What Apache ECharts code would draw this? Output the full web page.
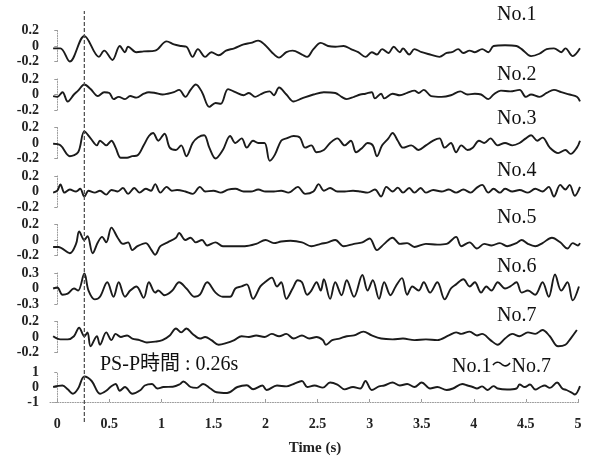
<!DOCTYPE html>
<html>
<head>
<meta charset="utf-8">
<script src="https://cdn.jsdelivr.net/npm/echarts@6/dist/echarts.min.js"></script>
<style>
  html, body { margin: 0; padding: 0; background: #ffffff; }
  #chart { width: 590px; height: 457px; }
</style>
</head>
<body>
<div id="chart"></div>
<script>
// Channel labels, amplitude limits and time ticks
const channelNames = ['No.1', 'No.2', 'No.3', 'No.4', 'No.5', 'No.6', 'No.7', 'No.1～No.7'];
const ampLimits = [0.2, 0.2, 0.2, 0.2, 0.2, 0.3, 0.2, 1];
const timeTicks = [0, 0.5, 1, 1.5, 2, 2.5, 3, 3.5, 4, 4.5, 5];
const PSP_TIME = 0.26;

// Waveforms: [time (s), amplitude]
const no1 = [[-0.04,-0.03],[0.03,-0.03],[0.12,-0.20],[0.26,0.13],[0.40,-0.14],[0.45,-0.06],[0.53,-0.18],[0.60,0.00],[0.65,-0.08],[0.68,-0.01],[0.76,-0.08],[0.83,-0.07],[0.94,-0.06],[1.05,0.06],[1.12,0.02],[1.19,0.00],[1.24,-0.01],[1.30,-0.14],[1.35,-0.04],[1.42,-0.14],[1.48,-0.08],[1.55,-0.12],[1.62,-0.06],[1.70,-0.03],[1.79,0.02],[1.86,0.04],[1.93,0.07],[1.99,0.02],[2.06,-0.08],[2.13,-0.15],[2.20,-0.08],[2.26,-0.06],[2.35,-0.11],[2.40,-0.14],[2.46,-0.04],[2.53,0.04],[2.60,0.00],[2.67,-0.01],[2.75,0.00],[2.82,-0.04],[2.89,-0.08],[2.96,-0.14],[3.02,-0.08],[3.07,-0.11],[3.12,-0.04],[3.18,-0.09],[3.23,-0.01],[3.29,-0.08],[3.32,-0.03],[3.38,-0.11],[3.43,-0.04],[3.50,-0.08],[3.58,-0.11],[3.67,-0.14],[3.74,-0.09],[3.79,-0.08],[3.85,-0.04],[3.90,-0.09],[3.96,-0.06],[4.01,-0.08],[4.08,-0.04],[4.14,-0.08],[4.19,0.00],[4.30,0.01],[4.41,0.00],[4.46,-0.04],[4.55,-0.13],[4.63,-0.10],[4.70,-0.04],[4.77,-0.03],[4.84,-0.08],[4.88,-0.03],[4.95,-0.13],[5.02,-0.03]];
const no2 = [[-0.04,-0.02],[0.00,-0.03],[0.05,0.03],[0.10,-0.09],[0.16,0.00],[0.20,0.05],[0.26,0.13],[0.32,0.07],[0.39,-0.02],[0.45,0.03],[0.50,0.02],[0.54,-0.06],[0.59,-0.03],[0.65,-0.06],[0.70,-0.02],[0.76,-0.04],[0.83,0.01],[0.88,0.03],[0.94,0.02],[1.01,0.00],[1.06,0.01],[1.12,0.03],[1.17,0.06],[1.23,-0.03],[1.28,0.06],[1.33,0.13],[1.39,0.03],[1.46,-0.16],[1.52,-0.11],[1.57,-0.12],[1.64,0.07],[1.71,0.03],[1.79,-0.01],[1.84,0.02],[1.90,-0.03],[1.95,0.00],[2.00,0.03],[2.04,0.04],[2.08,-0.01],[2.13,0.09],[2.20,0.00],[2.27,-0.09],[2.35,-0.05],[2.46,0.00],[2.56,0.03],[2.67,0.02],[2.73,-0.03],[2.78,-0.06],[2.85,-0.03],[2.91,0.00],[2.96,0.01],[3.02,0.03],[3.05,-0.05],[3.11,0.01],[3.14,-0.05],[3.22,0.01],[3.29,-0.01],[3.36,0.02],[3.43,0.05],[3.47,0.02],[3.52,0.06],[3.59,-0.02],[3.69,-0.03],[3.78,-0.01],[3.87,0.04],[3.94,0.00],[4.01,0.01],[4.07,0.00],[4.14,-0.06],[4.19,0.00],[4.26,0.05],[4.35,0.04],[4.44,0.06],[4.50,-0.03],[4.55,0.00],[4.63,-0.03],[4.70,0.02],[4.77,0.06],[4.84,0.03],[4.92,0.00],[4.99,-0.03],[5.02,-0.09]];
const no3 = [[-0.04,-0.01],[0.03,-0.03],[0.12,-0.17],[0.20,-0.12],[0.26,0.15],[0.32,0.06],[0.38,-0.03],[0.41,0.03],[0.47,-0.03],[0.52,0.03],[0.56,-0.06],[0.61,-0.19],[0.67,-0.19],[0.72,-0.17],[0.77,-0.16],[0.83,-0.03],[0.88,0.09],[0.92,0.13],[0.97,0.03],[1.03,0.12],[1.08,-0.06],[1.14,-0.09],[1.19,-0.03],[1.24,-0.17],[1.30,0.00],[1.35,0.07],[1.41,0.10],[1.46,-0.06],[1.52,-0.20],[1.59,-0.09],[1.66,0.09],[1.71,0.00],[1.77,0.06],[1.82,-0.06],[1.88,0.03],[1.93,0.00],[1.99,0.00],[2.04,-0.23],[2.09,-0.15],[2.15,0.03],[2.20,0.06],[2.27,0.09],[2.33,0.07],[2.38,-0.06],[2.44,-0.03],[2.49,-0.12],[2.56,-0.09],[2.62,0.00],[2.69,0.06],[2.76,-0.03],[2.82,0.03],[2.87,-0.12],[2.93,-0.06],[2.98,0.00],[3.03,-0.03],[3.07,-0.17],[3.12,-0.03],[3.18,0.06],[3.22,0.13],[3.27,0.03],[3.32,-0.06],[3.40,-0.03],[3.47,-0.09],[3.54,-0.03],[3.61,0.03],[3.67,0.06],[3.72,-0.06],[3.78,0.00],[3.83,-0.12],[3.88,-0.03],[3.94,-0.09],[3.99,-0.06],[4.05,0.03],[4.10,0.00],[4.16,0.06],[4.23,-0.03],[4.30,0.00],[4.37,-0.03],[4.44,0.00],[4.50,0.06],[4.55,0.10],[4.61,0.03],[4.66,0.07],[4.73,-0.06],[4.81,-0.13],[4.88,-0.09],[4.93,-0.14],[4.99,-0.06],[5.02,0.03]];
const no4 = [[-0.04,-0.015],[0.00,0.01],[0.03,0.09],[0.07,-0.015],[0.12,0.025],[0.18,0.00],[0.22,0.035],[0.26,-0.065],[0.30,0.01],[0.36,-0.015],[0.41,0.01],[0.47,-0.04],[0.52,0.02],[0.58,0.00],[0.63,0.045],[0.68,-0.03],[0.74,0.045],[0.79,-0.015],[0.85,0.035],[0.90,0.01],[0.94,0.095],[0.99,-0.015],[1.05,0.06],[1.10,0.01],[1.15,0.02],[1.23,0.00],[1.30,-0.03],[1.37,0.06],[1.42,0.00],[1.50,0.01],[1.57,-0.015],[1.64,0.025],[1.71,0.035],[1.79,0.00],[1.86,0.00],[1.93,0.025],[2.00,0.00],[2.08,0.00],[2.15,0.01],[2.22,-0.015],[2.31,0.06],[2.38,-0.03],[2.46,0.00],[2.51,0.095],[2.56,0.01],[2.62,0.045],[2.69,0.00],[2.76,0.00],[2.84,0.01],[2.91,0.00],[2.98,-0.015],[3.05,0.025],[3.11,-0.065],[3.16,0.06],[3.22,0.00],[3.27,0.05],[3.32,-0.015],[3.38,0.045],[3.43,-0.015],[3.49,0.045],[3.54,-0.015],[3.61,0.02],[3.69,0.00],[3.76,0.025],[3.83,-0.015],[3.90,0.025],[3.97,-0.015],[4.03,0.05],[4.08,0.085],[4.14,-0.015],[4.19,0.035],[4.25,-0.015],[4.30,0.035],[4.37,0.00],[4.44,0.02],[4.52,-0.015],[4.59,0.035],[4.66,0.00],[4.72,0.06],[4.77,-0.065],[4.83,0.085],[4.88,0.025],[4.92,0.085],[4.97,-0.055],[5.02,0.06]];
const no5 = [[-0.04,-0.09],[0.01,-0.09],[0.12,-0.17],[0.18,-0.05],[0.21,0.11],[0.26,0.00],[0.29,0.05],[0.34,-0.17],[0.39,-0.03],[0.43,0.04],[0.47,-0.03],[0.52,0.16],[0.58,0.03],[0.63,-0.05],[0.68,-0.03],[0.72,-0.13],[0.77,-0.08],[0.85,-0.04],[0.90,-0.12],[0.94,-0.19],[0.99,-0.08],[1.06,-0.03],[1.14,0.03],[1.17,0.09],[1.23,0.00],[1.28,0.03],[1.33,-0.03],[1.39,0.00],[1.44,-0.07],[1.52,-0.03],[1.59,-0.08],[1.70,-0.08],[1.80,-0.08],[1.91,-0.05],[2.00,0.00],[2.08,-0.04],[2.15,-0.02],[2.24,-0.01],[2.35,-0.03],[2.44,-0.08],[2.53,-0.05],[2.60,-0.03],[2.67,0.00],[2.75,-0.08],[2.85,-0.05],[2.93,-0.03],[3.00,0.02],[3.07,-0.13],[3.14,-0.05],[3.22,0.03],[3.29,-0.05],[3.36,-0.04],[3.43,-0.09],[3.54,-0.05],[3.65,-0.06],[3.74,-0.05],[3.83,0.04],[3.88,-0.08],[3.96,-0.03],[4.03,-0.11],[4.10,-0.05],[4.17,-0.07],[4.25,-0.04],[4.32,-0.08],[4.41,-0.04],[4.46,0.00],[4.52,-0.05],[4.59,-0.08],[4.66,-0.04],[4.75,0.03],[4.83,-0.03],[4.90,-0.11],[4.95,-0.04],[5.00,-0.07],[5.02,-0.04]];
const no6 = [[-0.04,0.00],[0.00,0.02],[0.05,-0.12],[0.10,-0.10],[0.16,0.00],[0.20,-0.04],[0.26,0.29],[0.30,-0.04],[0.36,-0.21],[0.41,-0.16],[0.48,0.12],[0.54,-0.16],[0.59,0.12],[0.65,-0.16],[0.70,-0.04],[0.76,0.04],[0.83,-0.18],[0.88,0.12],[0.94,-0.08],[0.97,-0.04],[1.03,-0.13],[1.10,-0.05],[1.17,0.12],[1.24,0.00],[1.32,-0.16],[1.37,-0.12],[1.44,0.12],[1.52,-0.08],[1.59,-0.16],[1.66,-0.16],[1.71,0.00],[1.77,0.04],[1.82,0.08],[1.88,-0.20],[1.95,0.04],[2.00,0.13],[2.06,0.21],[2.11,0.04],[2.15,0.12],[2.20,-0.20],[2.26,0.00],[2.31,0.16],[2.35,0.12],[2.40,-0.12],[2.44,-0.04],[2.49,0.12],[2.53,-0.04],[2.56,0.18],[2.62,-0.20],[2.67,0.12],[2.73,-0.13],[2.78,0.16],[2.85,-0.16],[2.93,0.26],[2.98,-0.04],[3.03,0.16],[3.09,-0.20],[3.14,0.12],[3.20,-0.13],[3.25,0.04],[3.31,0.20],[3.36,-0.12],[3.41,0.04],[3.47,-0.04],[3.52,0.12],[3.58,-0.08],[3.65,0.12],[3.72,-0.21],[3.78,0.00],[3.83,0.08],[3.90,0.18],[3.96,0.04],[4.01,0.12],[4.07,-0.08],[4.12,0.04],[4.17,-0.04],[4.23,0.12],[4.30,0.00],[4.35,0.04],[4.41,0.12],[4.46,-0.08],[4.52,-0.04],[4.59,-0.12],[4.66,0.12],[4.72,-0.16],[4.78,0.27],[4.84,-0.04],[4.90,0.12],[4.95,-0.23],[5.01,0.04]];
const no7 = [[-0.04,0.01],[0.03,-0.03],[0.10,-0.03],[0.16,0.01],[0.21,0.12],[0.26,0.01],[0.29,0.06],[0.32,-0.12],[0.38,0.01],[0.41,-0.10],[0.47,0.06],[0.52,-0.04],[0.56,0.04],[0.61,0.00],[0.67,0.02],[0.72,-0.02],[0.79,-0.04],[0.86,-0.07],[0.94,-0.06],[1.01,-0.04],[1.08,0.02],[1.14,0.11],[1.19,0.06],[1.24,0.11],[1.30,0.04],[1.37,-0.02],[1.42,0.00],[1.48,-0.04],[1.55,-0.10],[1.62,-0.08],[1.70,-0.04],[1.77,0.01],[1.84,0.00],[1.91,0.02],[1.99,0.00],[2.06,0.04],[2.13,0.01],[2.20,0.04],[2.27,-0.02],[2.35,0.02],[2.42,-0.02],[2.49,0.00],[2.55,-0.04],[2.58,-0.10],[2.64,-0.04],[2.71,-0.02],[2.78,0.01],[2.85,0.02],[2.94,0.07],[3.02,0.02],[3.11,-0.02],[3.22,-0.03],[3.32,-0.02],[3.43,-0.04],[3.54,-0.03],[3.65,-0.04],[3.76,0.02],[3.83,0.06],[3.88,0.04],[3.96,0.07],[4.03,0.02],[4.08,0.04],[4.16,-0.04],[4.23,-0.10],[4.30,-0.02],[4.37,0.04],[4.44,0.01],[4.52,0.06],[4.59,0.04],[4.66,0.09],[4.73,0.01],[4.81,-0.12],[4.88,-0.10],[4.93,-0.02],[4.99,0.09]];
const noAll = [[-0.04,0.00],[0.05,0.10],[0.10,-0.15],[0.15,-0.45],[0.20,-0.10],[0.26,0.70],[0.33,0.40],[0.41,-0.45],[0.47,-0.25],[0.51,0.00],[0.56,0.20],[0.60,-0.25],[0.65,0.00],[0.72,-0.45],[0.80,-0.20],[0.84,0.10],[0.91,0.20],[0.96,-0.10],[1.02,0.00],[1.11,0.02],[1.18,0.20],[1.21,0.37],[1.28,0.00],[1.34,-0.06],[1.40,0.20],[1.47,-0.10],[1.53,-0.35],[1.63,-0.40],[1.73,0.00],[1.82,0.12],[1.88,-0.15],[1.97,0.10],[2.01,-0.20],[2.11,0.10],[2.20,0.04],[2.27,0.20],[2.35,0.40],[2.40,0.00],[2.47,0.10],[2.55,-0.04],[2.62,0.30],[2.69,0.16],[2.76,-0.16],[2.84,0.00],[2.91,-0.10],[2.96,0.40],[3.02,-0.20],[3.09,0.04],[3.14,0.10],[3.22,0.30],[3.29,0.10],[3.36,0.20],[3.43,0.00],[3.50,0.30],[3.58,-0.10],[3.65,0.00],[3.74,-0.20],[3.80,-0.10],[3.89,0.20],[3.94,0.10],[3.99,0.00],[4.03,-0.10],[4.08,0.04],[4.13,-0.20],[4.19,0.06],[4.23,-0.10],[4.32,-0.17],[4.41,-0.10],[4.44,0.17],[4.49,0.00],[4.54,0.17],[4.59,-0.17],[4.64,0.00],[4.68,0.10],[4.73,-0.06],[4.80,0.30],[4.85,-0.10],[4.89,-0.20],[4.94,-0.37],[4.97,-0.50],[5.02,0.06]];

const waves = [no1, no2, no3, no4, no5, no6, no7, noAll];

// Panel geometry (pixels)
const panelTop = [30.5, 79, 127.5, 176, 224.5, 273, 321.5, 372];
const panelHeight = [31, 31, 31, 31, 31, 31, 31, 35];
const nameY = [15, 75, 119, 171, 218, 267, 316, 367];
const nameX = [497, 497, 497, 497, 497, 497, 497, 452];
const X_MIN = -0.07, X_MAX = 5.02;
const GRID_LEFT = 50, GRID_RIGHT = 10;

const serif = '"Liberation Serif", "Times New Roman", "Noto Sans CJK JP", serif';
const gray = '#9a9a9a';

const grids = [], xAxes = [], yAxes = [], series = [];

waves.forEach((data, i) => {
  const last = i === waves.length - 1;
  grids.push({ left: GRID_LEFT, right: GRID_RIGHT, top: panelTop[i], height: panelHeight[i] });
  xAxes.push({
    type: 'value', gridIndex: i, min: X_MIN, max: X_MAX,
    show: last,
    axisLine: { show: last, onZero: false, lineStyle: { color: gray, width: 1, type: [1, 1.5] } },
    axisTick: { show: last, customValues: timeTicks, length: 3, inside: true, lineStyle: { color: gray } },
    axisLabel: {
      show: last, customValues: timeTicks, margin: 15,
      fontFamily: serif, fontSize: 14, fontWeight: 'bold', color: '#222',
      formatter: v => String(v)
    },
    splitLine: { show: false },
    name: last ? 'Time (s)' : '',
    nameLocation: 'middle', nameGap: 39,
    nameTextStyle: { fontFamily: serif, fontSize: 15, fontWeight: 'bold', color: '#222' }
  });
  const lim = ampLimits[i];
  yAxes.push({
    type: 'value', gridIndex: i, min: -lim, max: lim, interval: lim,
    axisLine: { show: true, lineStyle: { color: gray, width: 1, type: [1, 1.5] } },
    axisTick: { show: true, length: 3, lineStyle: { color: gray } },
    axisLabel: {
      margin: 11, fontFamily: serif, fontSize: 14, fontWeight: 'bold', color: '#222',
      formatter: v => { const r = Math.round(v * 10) / 10; return r === 0 ? '0' : String(r); }
    },
    splitLine: { show: false }
  });
  series.push({
    type: 'line', xAxisIndex: i, yAxisIndex: i, data,
    showSymbol: false, symbol: 'none', smooth: 0.35, clip: false,
    lineStyle: { color: '#1b1b1b', width: 1.9 },
    silent: true, animation: false
  });
});

// Overlay panel carrying the vertical PS-P time marker across all channels
const ov = waves.length;
grids.push({ left: GRID_LEFT, right: GRID_RIGHT, top: 11, height: 411 });
xAxes.push({ type: 'value', gridIndex: ov, min: X_MIN, max: X_MAX, show: false });
yAxes.push({ type: 'value', gridIndex: ov, min: 0, max: 1, show: false });
series.push({
  type: 'line', xAxisIndex: ov, yAxisIndex: ov,
  data: [[PSP_TIME, 0], [PSP_TIME, 1]],
  symbol: 'none', silent: true, animation: false, z: 3,
  lineStyle: { color: '#555', width: 1.3, type: [4, 2] }
});

const labelFont = '20px ' + serif;
const graphic = channelNames.map((name, i) => ({
  type: 'text', x: nameX[i], y: nameY[i], silent: true,
  style: { text: name, font: labelFont, fill: '#111', textVerticalAlign: 'middle' }
}));
graphic.push({
  type: 'text', x: 100, y: 365, silent: true,
  style: { text: 'PS-P時間 : ' + PSP_TIME + 's', font: labelFont, fill: '#111', textVerticalAlign: 'middle' }
});

const chart = echarts.init(document.getElementById('chart'), null, { renderer: 'canvas' });
chart.setOption({
  backgroundColor: '#ffffff',
  animation: false,
  grid: grids,
  xAxis: xAxes,
  yAxis: yAxes,
  series,
  graphic
});
</script>
</body>
</html>
